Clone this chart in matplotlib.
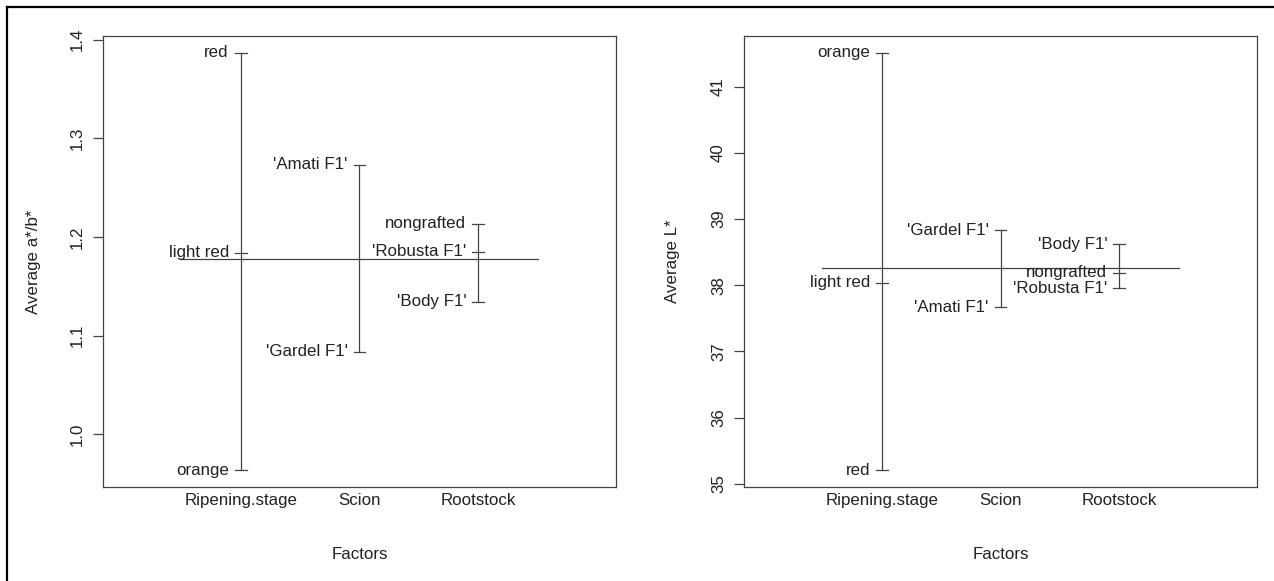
import numpy as np
import matplotlib
matplotlib.use("Agg")
import matplotlib.pyplot as plt
from matplotlib.lines import Line2D

plt.rcParams['font.family'] = ['Liberation Sans', 'DejaVu Sans']

factors = ['Ripening.stage', 'Scion', 'Rootstock']

# left panel: average a*/b*
ab_levels = [['red', 'light red', 'orange'],
             ["'Amati F1'", "'Gardel F1'"],
             ['nongrafted', "'Robusta F1'", "'Body F1'"]]
ab_means = [[1.3867, 1.1840, 0.9635],
            [1.2729, 1.0835],
            [1.2134, 1.1852, 1.1343]]
ab_grand = 1.1776
ab_ticks = [1.0, 1.1, 1.2, 1.3, 1.4]

# right panel: average L*
L_levels = [['orange', 'light red', 'red'],
            ["'Gardel F1'", "'Amati F1'"],
            ["'Body F1'", 'nongrafted', "'Robusta F1'"]]
L_means = [[41.515, 38.040, 35.202],
           [38.832, 37.670],
           [38.622, 38.186, 37.956]]
L_grand = 38.258
L_ticks = [35, 36, 37, 38, 39, 40, 41]

LC = '#444444'
TC = '#222222'
FS = 12.2


def design_plot(ax, levels, means, grand, ticks, ylabel):
    allv = [v for m in means for v in m]
    lo, hi = min(allv), max(allv)
    rng = hi - lo
    ax.set_ylim(lo - 0.04 * rng, hi + 0.04 * rng)
    nf = len(factors)
    ax.set_xlim(-0.04 * (nf + 1), (nf + 1) * 1.04)
    ax.plot([0.5, nf + 0.5], [grand, grand], color=LC, lw=0.9)
    for i, (labs, vals) in enumerate(zip(levels, means), start=1):
        ax.plot([i, i], [min(vals), max(vals)], color=LC, lw=0.9)
        for lab, v in zip(labs, vals):
            ax.plot([i - 0.05, i + 0.05], [v, v], color=LC, lw=0.9)
            ax.text(i - 0.1, v, lab, ha='right', va='center',
                    fontsize=FS, color=TC)
    ax.set_xticks(range(1, nf + 1))
    ax.set_xticklabels(factors, fontsize=FS, color=TC)
    ax.tick_params(axis='x', length=0, pad=4)
    ax.set_yticks(ticks)
    ax.set_yticklabels([str(t) for t in ticks], rotation=90, va='center',
                       fontsize=FS, color=TC)
    ax.tick_params(axis='y', length=7, width=0.9, color=LC, pad=6)
    for s in ax.spines.values():
        s.set_color(LC)
        s.set_linewidth(0.9)
    ax.set_xlabel('Factors', fontsize=FS, color=TC)
    ax.set_ylabel(ylabel, fontsize=FS, color=TC)
    ax.xaxis.set_label_coords(0.5, -0.133)


fig = plt.figure(figsize=(12.74, 5.81), dpi=100)
ax1 = fig.add_axes([103 / 1274, 1 - 487 / 581, 513 / 1274, 451 / 581])
ax2 = fig.add_axes([744 / 1274, 1 - 487 / 581, 513 / 1274, 451 / 581])

design_plot(ax1, ab_levels, ab_means, ab_grand, ab_ticks, 'Average a*/b*')
design_plot(ax2, L_levels, L_means, L_grand, L_ticks, 'Average L*')
ax1.yaxis.set_label_coords(-0.12, 0.5)
ax2.yaxis.set_label_coords(-0.124, 0.5)

# frame on the left and top edges
fig.add_artist(Line2D([7 / 1274, 7 / 1274], [0, 1 - 7 / 581], color='black', lw=1.6))
fig.add_artist(Line2D([7 / 1274, 1], [1 - 7 / 581, 1 - 7 / 581], color='black', lw=1.6))

fig.savefig('out.png', dpi=100)
